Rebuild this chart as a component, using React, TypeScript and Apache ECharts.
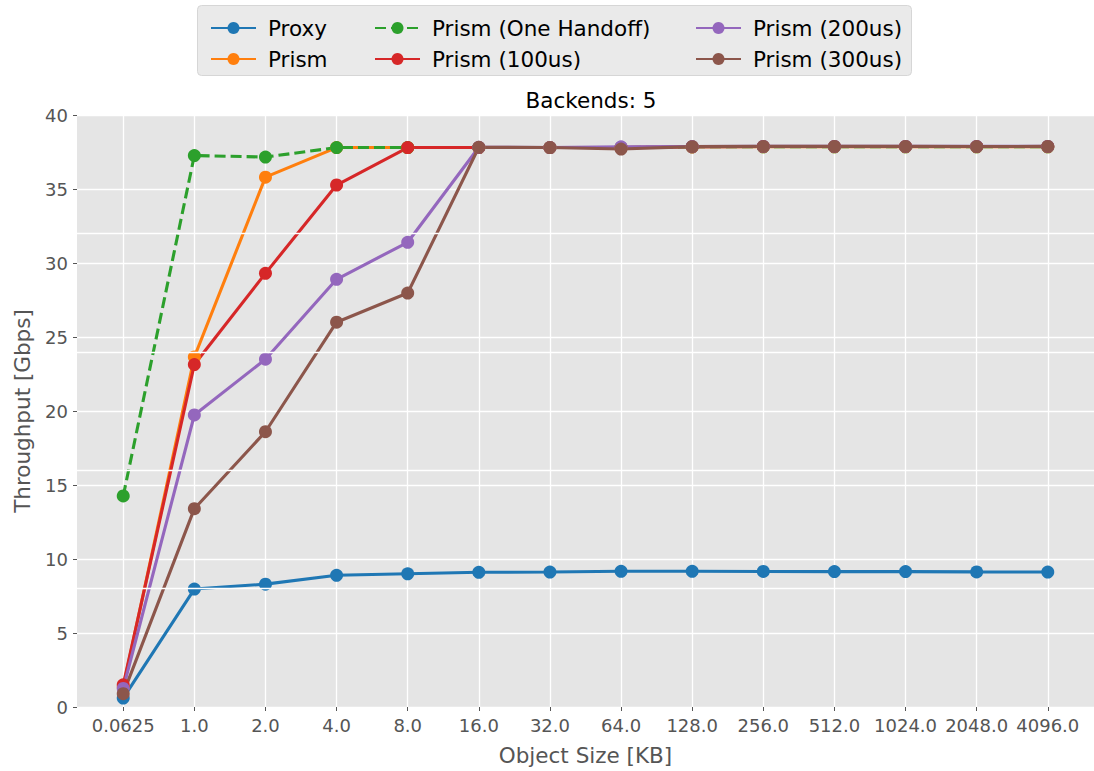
import React, { useEffect, useRef } from "react";
import * as echarts from "echarts";

const categories = ["0.0625", "1.0", "2.0", "4.0", "8.0", "16.0", "32.0", "64.0", "128.0", "256.0", "512.0", "1024.0", "2048.0", "4096.0"];

const proxy = [0.6, 7.97, 8.3, 8.9, 9.0, 9.1, 9.12, 9.17, 9.17, 9.16, 9.15, 9.15, 9.13, 9.12];
const prism = [1.35, 23.65, 35.8, 37.8, 37.8, 37.8, 37.8, 37.8, 37.85, 37.85, 37.85, 37.85, 37.85, 37.85];
const prismOneHandoff = [14.26, 37.26, 37.16, 37.8, 37.8, 37.8, 37.8, 37.8, 37.85, 37.85, 37.85, 37.85, 37.85, 37.85];
const prism100 = [1.5, 23.14, 29.3, 35.27, 37.8, 37.8, 37.8, 37.8, 37.85, 37.87, 37.87, 37.87, 37.87, 37.87];
const prism200 = [1.25, 19.73, 23.5, 28.9, 31.4, 37.82, 37.8, 37.85, 37.87, 37.88, 37.88, 37.88, 37.88, 37.88];
const prism300 = [0.9, 13.4, 18.6, 26.0, 27.97, 37.82, 37.8, 37.7, 37.86, 37.88, 37.88, 37.88, 37.87, 37.88];

const seriesNames = ["Proxy", "Prism", "Prism (One Handoff)", "Prism (100us)", "Prism (200us)", "Prism (300us)"];
const seriesValues = [proxy, prism, prismOneHandoff, prism100, prism200, prism300];
const seriesColors = ["#1f77b4", "#ff7f0e", "#2ca02c", "#d62728", "#9467bd", "#8c564b"];

const yInterval = 5;
const extraGridValues = [8, 16, 24, 32];

const FONT = "DejaVu Sans";

export default function App() {
  const ref = useRef<HTMLDivElement>(null);
  useEffect(() => {
    if (!ref.current) return;
    const chart = echarts.init(ref.current, null, { renderer: "svg" });
    const catIdx = categories.map((_, i) => i);
    const series: any[] = [
      {
        name: "__grid8",
        type: "line",
        data: [],
        silent: true,
        z: 1,
        markLine: {
          silent: true,
          symbol: "none",
          label: { show: false },
          lineStyle: { color: "#ffffff", width: 1.3, type: "solid" },
          emphasis: { disabled: true },
          data: extraGridValues.map((v) => ({ yAxis: v })),
        },
      },
    ];
    seriesNames.forEach((name, si) => {
      series.push({
        name,
        type: "line",
        data: seriesValues[si].map((v, i) => [i, v]),
        symbol: "circle",
        symbolSize: 13,
        clip: false,
        color: seriesColors[si],
        lineStyle: {
          width: 3.1,
          color: seriesColors[si],
          type: si === 2 ? [11, 5] : "solid",
        },
        itemStyle: { color: seriesColors[si] },
        emphasis: { disabled: true },
        z: 3,
      });
    });
    const legendCommon = {
      orient: "vertical",
      top: 12,
      itemWidth: 45,
      itemHeight: 15,
      itemGap: 9,
      textStyle: { fontSize: 21.5, lineHeight: 21, color: "#000", fontFamily: FONT, padding: [0, 0, 0, 7] },
      selectedMode: false,
    };
    chart.setOption({
      animation: false,
      backgroundColor: "#ffffff",
      textStyle: { fontFamily: FONT },
      title: {
        text: "Backends: 5",
        left: 586,
        textAlign: "center",
        top: 84,
        textStyle: { fontSize: 21.5, fontWeight: "normal", color: "#000", fontFamily: FONT },
      },
      graphic: [
        {
          type: "rect",
          shape: { x: 197.5, y: 5.5, width: 714, height: 70, r: 4 },
          style: { fill: "#EAEAEA", stroke: "#D6D6D6", lineWidth: 1 },
          z: 0,
        },
      ],
      legend: [
        { ...legendCommon, left: 205, data: ["Proxy", "Prism"] },
        { ...legendCommon, left: 369, data: ["Prism (One Handoff)", "Prism (100us)"] },
        { ...legendCommon, left: 690, data: ["Prism (200us)", "Prism (300us)"] },
      ],
      grid: {
        left: 77,
        top: 115,
        width: 1021,
        height: 592,
        show: true,
        backgroundColor: "#E5E5E5",
        borderWidth: 0,
      },
      xAxis: {
        type: "value",
        min: -0.65,
        max: 13.65,
        axisLine: { show: false, onZero: false },
        axisTick: { show: true, customValues: catIdx, length: 4, lineStyle: { color: "#555555", width: 1 } },
        axisLabel: {
          customValues: catIdx,
          formatter: (v: number) => categories[Math.round(v)],
          fontSize: 18,
          color: "#555555",
          margin: 9,
          fontFamily: FONT,
        },
        splitLine: { show: true, lineStyle: { color: "#ffffff", width: 1.3 } },
        name: "Object Size [KB]",
        nameLocation: "middle",
        nameGap: 37,
        nameTextStyle: { fontSize: 21.5, color: "#555555", fontFamily: FONT },
      },
      yAxis: {
        type: "value",
        min: 0,
        max: 40,
        interval: yInterval,
        position: "left",
        axisLine: { show: false, onZero: false },
        axisTick: { show: true, length: 4, lineStyle: { color: "#555555", width: 1 } },
        axisLabel: { fontSize: 18, color: "#555555", margin: 9, fontFamily: FONT },
        splitLine: { show: true, lineStyle: { color: "#ffffff", width: 1.3 } },
        name: "Throughput [Gbps]",
        nameLocation: "middle",
        nameGap: 44,
        nameTextStyle: { fontSize: 21.5, color: "#555555", fontFamily: FONT },
      },
      series,
    });
    return () => chart.dispose();
  }, []);
  return <div ref={ref} style={{ position: "fixed", left: 0, top: 0, width: 1094, height: 771 }} />;
}
